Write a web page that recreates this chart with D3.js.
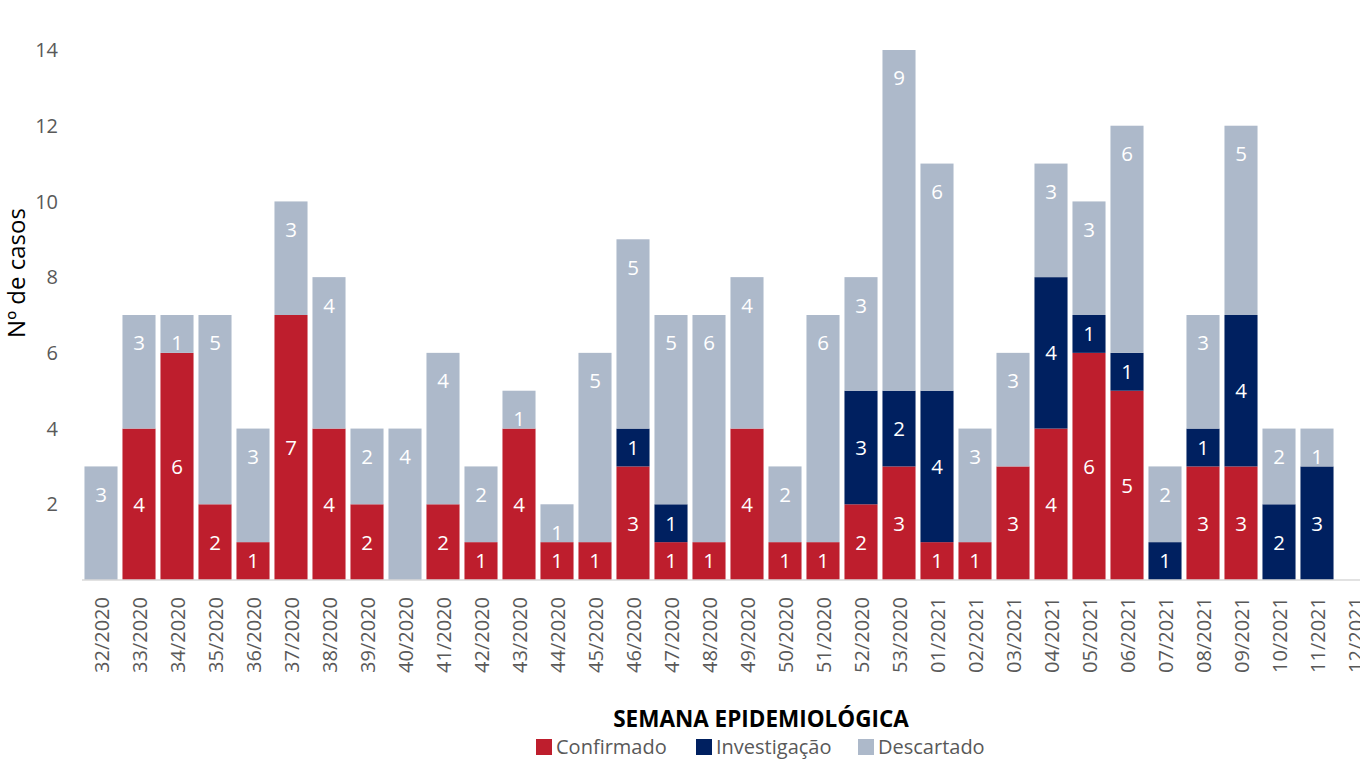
<!DOCTYPE html>
<html>
<head>
<meta charset="utf-8">
<script src="https://cdn.jsdelivr.net/npm/d3@7"></script>
<style>
  body { margin: 0; background: #fff; }
  svg { display: block; font-family: "Open Sans", sans-serif; }
</style>
</head>
<body>
<svg id="chart" width="1360" height="768"></svg>
<script>
// semanas epidemiológicas
const semanas = [
  "32/2020", "33/2020", "34/2020", "35/2020", "36/2020", "37/2020", "38/2020",
  "39/2020", "40/2020", "41/2020", "42/2020", "43/2020", "44/2020", "45/2020",
  "46/2020", "47/2020", "48/2020", "49/2020", "50/2020", "51/2020", "52/2020",
  "53/2020", "01/2021", "02/2021", "03/2021", "04/2021", "05/2021", "06/2021",
  "07/2021", "08/2021", "09/2021", "10/2021", "11/2021", "12/2021"
];
const confirmado = [0, 4, 6, 2, 1, 7, 4, 2, 0, 2, 1, 4, 1, 1, 3, 1, 1, 4, 1, 1, 2, 3, 1, 1, 3, 4, 6, 5, 0, 3, 3, 0, 0, 0];
const investigacao = [0, 0, 0, 0, 0, 0, 0, 0, 0, 0, 0, 0, 0, 0, 1, 1, 0, 0, 0, 0, 3, 2, 4, 0, 0, 4, 1, 1, 1, 1, 4, 2, 3, 0];
const descartado = [3, 3, 1, 5, 3, 3, 4, 2, 4, 4, 2, 1, 1, 5, 5, 5, 6, 4, 2, 6, 3, 9, 6, 3, 3, 3, 3, 6, 2, 3, 5, 2, 1, 0];

const yTicks = [2, 4, 6, 8, 10, 12, 14];

const series = [
  { key: "Confirmado", values: confirmado, color: "#BE1E2D" },
  { key: "Investigação", values: investigacao, color: "#002060" },
  { key: "Descartado", values: descartado, color: "#ADB9CA" }
];

const svg = d3.select('#chart');

// scales
const x = d3.scaleBand()
  .domain(semanas)
  .range([82, 82 + semanas.length * 38])
  .paddingInner(0.13)
  .paddingOuter(0.065);

const y = d3.scaleLinear()
  .domain([0, 14])
  .range([580, 50]);

// stack the three series
const rows = semanas.map((s, i) => {
  let row = { semana: s };
  series.forEach(d => { row[d.key] = d.values[i]; });
  return row;
});
const stacked = d3.stack().keys(series.map(d => d.key))(rows);

// bars
let layers = svg.append('g')
  .selectAll('g')
  .data(stacked)
  .enter()
  .append('g')
  .attr('fill', (d, i) => series[i].color);

layers.selectAll('rect')
  .data(d => d)
  .enter()
  .append('rect')
  .attr('x', d => x(d.data.semana))
  .attr('y', d => y(d[1]))
  .attr('width', x.bandwidth())
  .attr('height', d => y(d[0]) - y(d[1]));

// data labels
layers.each(function(layer, i) {
  d3.select(this).selectAll('text')
    .data(layer.filter(d => d[1] - d[0] > 0))
    .enter()
    .append('text')
    .attr('x', d => x(d.data.semana) + x.bandwidth() / 2)
    .attr('y', d => {
      // descartado labels sit at the inner end of the bar
      if (series[i].key == 'Descartado')
        return y(d[1]) + 28;
      return (y(d[0]) + y(d[1])) / 2;
    })
    .attr('dy', '0.36em')
    .attr('text-anchor', 'middle')
    .attr('fill', 'white')
    .style('font-size', '20.5px')
    .text(d => d[1] - d[0]);
});

// x axis line
svg.append('line')
  .attr('x1', 82)
  .attr('x2', 1360)
  .attr('y1', y(0))
  .attr('y2', y(0))
  .attr('stroke', '#D9D9D9')
  .attr('stroke-width', 1.5);

// x tick labels (rotated)
svg.append('g')
  .selectAll('text')
  .data(semanas)
  .enter()
  .append('text')
  .attr('transform', d => 'translate(' + (x(d) + x.bandwidth() / 2 + 1) + ',597) rotate(-90)')
  .attr('dy', '0.36em')
  .attr('text-anchor', 'end')
  .attr('fill', '#595959')
  .style('font-size', '20px')
  .text(d => d);

// y tick labels
svg.append('g')
  .selectAll('text')
  .data(yTicks)
  .enter()
  .append('text')
  .attr('x', 58)
  .attr('y', d => y(d))
  .attr('dy', '0.36em')
  .attr('text-anchor', 'end')
  .attr('fill', '#595959')
  .style('font-size', '20px')
  .text(d => d);

// y axis title
svg.append('text')
  .attr('transform', 'translate(16,273) rotate(-90)')
  .attr('dy', '0.36em')
  .attr('text-anchor', 'middle')
  .attr('fill', '#000')
  .style('font-size', '24px')
  .text('Nº de casos');

// x axis title
svg.append('text')
  .attr('x', 761)
  .attr('y', 727)
  .attr('text-anchor', 'middle')
  .attr('fill', '#000')
  .style('font-size', '22.5px')
  .style('font-weight', 'bold')
  .text('SEMANA EPIDEMIOLÓGICA');

// legend
const legendX = [536, 696, 858];
let legend = svg.append('g')
  .selectAll('g')
  .data(series)
  .enter()
  .append('g')
  .attr('transform', (d, i) => 'translate(' + legendX[i] + ',739)');

legend.append('rect')
  .attr('width', 16)
  .attr('height', 16)
  .attr('fill', d => d.color);

legend.append('text')
  .attr('x', 20)
  .attr('y', 8)
  .attr('dy', '0.36em')
  .attr('fill', '#595959')
  .style('font-size', '20px')
  .text(d => d.key);
</script>
</body>
</html>
